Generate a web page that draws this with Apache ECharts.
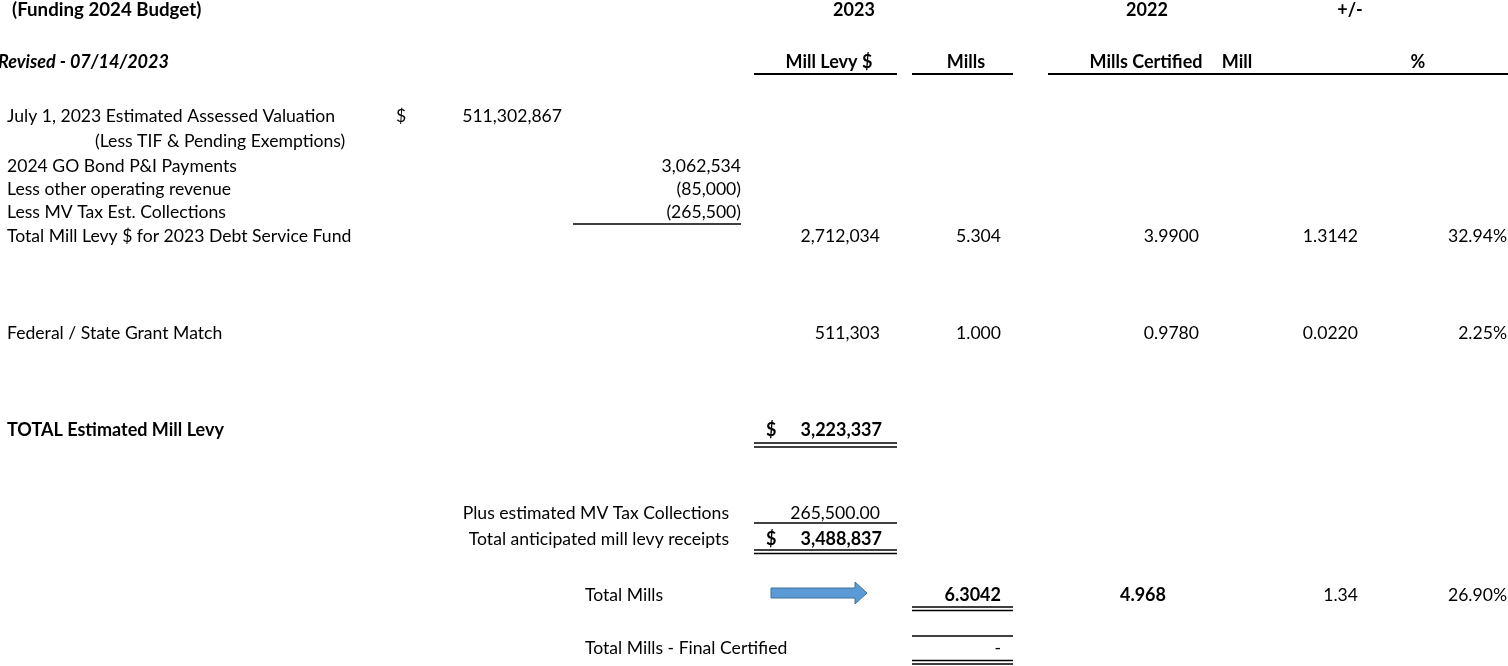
<!DOCTYPE html>
<html>
<head>
<meta charset="utf-8">
<script src="https://cdn.jsdelivr.net/npm/echarts@6/dist/echarts.min.js"></script>
<style>
html,body{margin:0;padding:0;background:#fff;}
#chart{width:1508px;height:666px;}
</style>
</head>
<body>
<div id="chart"></div>
<script>
// ---------------- DATA ----------------
const titleText = '(Funding 2024 Budget)';
const revisedText = 'Revised - 07/14/2023';
const headerYears = ['2023', '2022', '+/-'];
const headerCols = ['Mill Levy $', 'Mills', 'Mills Certified', 'Mill', '%'];
const valuationLabels = ['July 1, 2023 Estimated Assessed Valuation', '(Less TIF & Pending Exemptions)'];
const assessedValuation = 511302867;
const bondLabels = ['2024 GO Bond P&I Payments', 'Less other operating revenue', 'Less MV Tax Est. Collections'];
const bondValues = [3062534, -85000, -265500];
const fundLabels = ['Total Mill Levy $ for 2023 Debt Service Fund', 'Federal / State Grant Match'];
const fundLevy = [2712034, 511303];
const fundMills2023 = [5.304, 1.000];
const fundMills2022 = [3.9900, 0.9780];
const fundMillChange = [1.3142, 0.0220];
const fundPctChange = [32.94, 2.25];
const totalLevyLabel = 'TOTAL Estimated Mill Levy';
const totalLevy = 3223337;
const receiptLabels = ['Plus estimated MV Tax Collections', 'Total anticipated mill levy receipts'];
const mvTaxCollections = 265500.00;
const totalReceipts = 3488837;
const totalMillsLabels = ['Total Mills', 'Total Mills - Final Certified'];
const totalMills2023 = 6.3042;
const totalMills2022 = 4.968;
const totalMillChange = 1.34;
const totalPctChange = 26.90;
const finalCertified = '-';

// ---------------- FORMAT ----------------
function fmt(v, dec) {
  const s = Math.abs(v).toLocaleString('en-US', {minimumFractionDigits: dec, maximumFractionDigits: dec});
  return v < 0 ? '(' + s + ')' : s;
}

// ---------------- LAYOUT ----------------
const FONT = 'Lato, "Open Sans", sans-serif';
const FS = 17.6;
const FSB = 18;
const X = {label: 7, indent: 95, dollarA: 396, valA: 562, valB: 741, dollarC: 766, levy: 882, mills: 1001,
           mc: 1199, mill: 1358, pct: 1507, rlabel: 729, tm: 585};
const Y = {title: 10, head: 62, val1: 116, val2: 141, bond: [166, 189, 212], fund: [236, 333],
           total: 430, rec: [513, 539], tmills: 595, final: 648};

const texts = [];
function T(x, y, text, align, w, st, fs) {
  texts.push({x, y, text, align: align || 'left', weight: w || 'normal', fstyle: st || 'normal',
              fs: fs || (w === 'bold' ? FSB : FS)});
}

T(12, Y.title, titleText, 'left', 'bold', 'normal', 18.7);
T(854, Y.title, headerYears[0], 'center', 'bold');
T(1147, Y.title, headerYears[1], 'center', 'bold');
T(1350, Y.title, headerYears[2], 'center', 'bold');
T(-2, Y.head, revisedText, 'left', 'bold', 'italic');
[829, 966, 1146, 1237, 1418].forEach((cx, i) => T(cx, Y.head, headerCols[i], 'center', 'bold'));

T(X.label, Y.val1, valuationLabels[0]);
T(X.dollarA, Y.val1, '$');
T(X.valA, Y.val1, fmt(assessedValuation, 0), 'right');
T(X.indent, Y.val2, valuationLabels[1]);
bondLabels.forEach((l, i) => { T(X.label, Y.bond[i], l); T(X.valB, Y.bond[i], fmt(bondValues[i], 0), 'right'); });
fundLabels.forEach((l, i) => {
  const y = Y.fund[i];
  T(X.label, y, l);
  T(X.levy - 2, y, fmt(fundLevy[i], 0), 'right');
  T(X.mills, y, fmt(fundMills2023[i], 3), 'right');
  T(X.mc, y, fmt(fundMills2022[i], 4), 'right');
  T(X.mill, y, fmt(fundMillChange[i], 4), 'right');
  T(X.pct, y, fmt(fundPctChange[i], 2) + '%', 'right');
});
T(X.label, Y.total, totalLevyLabel, 'left', 'bold');
T(X.dollarC, Y.total, '$', 'left', 'bold');
T(X.levy, Y.total, fmt(totalLevy, 0), 'right', 'bold');
T(X.rlabel, Y.rec[0], receiptLabels[0], 'right');
T(X.levy - 2, Y.rec[0], fmt(mvTaxCollections, 2), 'right');
T(X.rlabel, Y.rec[1], receiptLabels[1], 'right');
T(X.dollarC, Y.rec[1], '$', 'left', 'bold');
T(X.levy, Y.rec[1], fmt(totalReceipts, 0), 'right', 'bold');
T(X.tm, Y.tmills, totalMillsLabels[0]);
T(X.mills, Y.tmills, fmt(totalMills2023, 4), 'right', 'bold');
T(1166, Y.tmills, fmt(totalMills2022, 3), 'right', 'bold');
T(X.mill, Y.tmills, fmt(totalMillChange, 2), 'right');
T(X.pct, Y.tmills, fmt(totalPctChange, 2) + '%', 'right');
T(X.tm, Y.final, totalMillsLabels[1]);
T(1001, Y.final, finalCertified, 'right');

// rules: [x1, x2, y, width]
const rules = [
  [754, 897, 74, 2], [912, 1013, 74, 2], [1048, 1508, 74, 2],
  [573, 741, 224, 1.5],
  [754, 897, 443, 1.5], [754, 897, 447, 1.5],
  [754, 897, 523, 1.5],
  [754, 897, 550, 1.5], [754, 897, 553.5, 1.5],
  [912, 1013, 607, 1.5], [912, 1013, 610.5, 1.5],
  [912, 1013, 636, 1.5],
  [912, 1013, 660.5, 1.5], [912, 1013, 664, 1.5]
];
// arrow: [xStart, xEnd, yCenter]
const arrow = [771, 867, 593];

// ---------------- CHART ----------------
const chart = echarts.init(document.getElementById('chart'), null, {renderer: 'canvas'});
const hiddenAxis = {show: false, axisLine: {show: false}, axisTick: {show: false}, axisLabel: {show: false}, splitLine: {show: false}};
chart.setOption({
  animation: false,
  backgroundColor: '#ffffff',
  grid: {left: 0, right: 0, top: 0, bottom: 0},
  xAxis: Object.assign({type: 'value', min: 0, max: 1508}, hiddenAxis),
  yAxis: Object.assign({type: 'value', min: 0, max: 666, inverse: true}, hiddenAxis),
  series: [
    {
      type: 'custom', silent: true, clip: false,
      data: rules,
      renderItem: function (params, api) {
        const p1 = api.coord([api.value(0), api.value(2)]);
        const p2 = api.coord([api.value(1), api.value(2)]);
        return {type: 'line', shape: {x1: p1[0], y1: p1[1], x2: p2[0], y2: p2[1]},
                style: {stroke: '#000', lineWidth: api.value(3)}};
      }
    },
    {
      type: 'custom', silent: true, clip: false,
      data: [arrow],
      renderItem: function (params, api) {
        const a = api.coord([api.value(0), api.value(2)]);
        const b = api.coord([api.value(1), api.value(2)]);
        const head = 12, hs = 5, hh = 11;
        const x0 = a[0], x1 = b[0], y = a[1];
        return {type: 'polygon', shape: {points: [
          [x0, y - hs], [x1 - head, y - hs], [x1 - head, y - hh], [x1, y],
          [x1 - head, y + hh], [x1 - head, y + hs], [x0, y + hs]]},
          style: {fill: '#5B9BD5', stroke: '#41719C', lineWidth: 1}};
      }
    },
    {
      type: 'custom', silent: true, clip: false,
      data: texts.map((t, i) => [t.x, t.y, i]),
      renderItem: function (params, api) {
        const t = texts[api.value(2)];
        const p = api.coord([api.value(0), api.value(1)]);
        return {type: 'text', x: p[0], y: p[1],
          style: {text: t.text, align: t.align, verticalAlign: 'middle', fill: '#000',
                  fontFamily: FONT, fontSize: t.fs, fontWeight: t.weight, fontStyle: t.fstyle}};
      }
    }
  ]
});
</script>
</body>
</html>
